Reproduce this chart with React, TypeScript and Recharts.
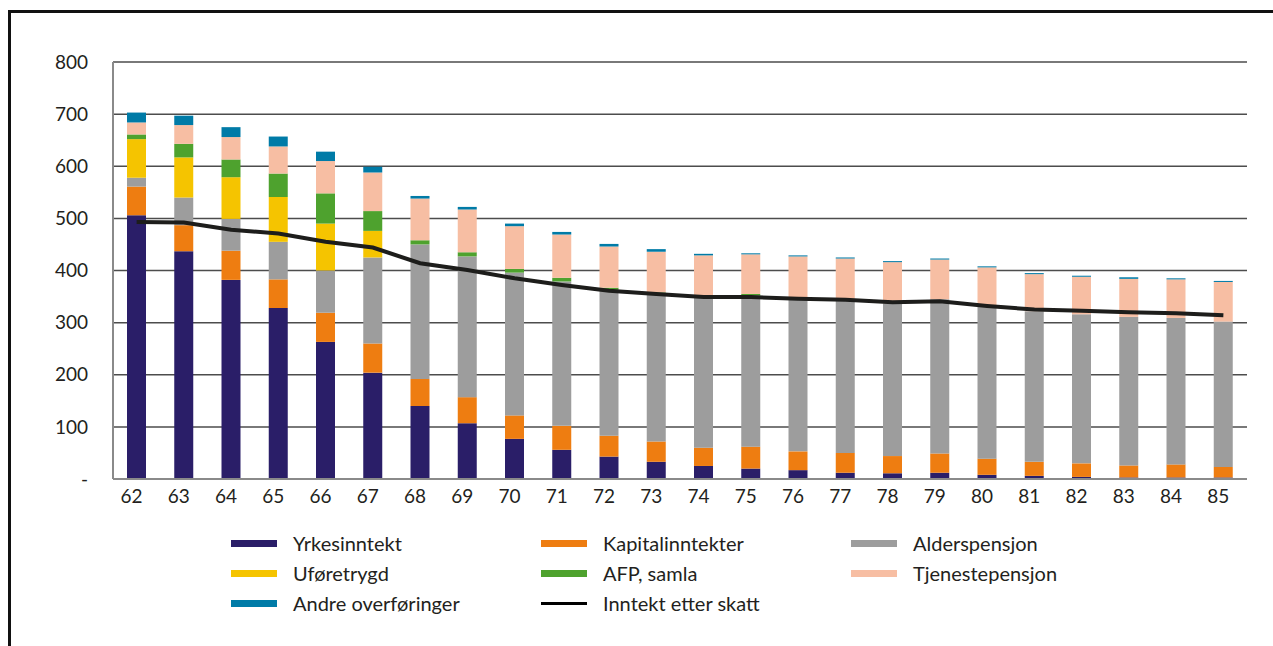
import { ComposedChart, Bar, Line, XAxis, YAxis, CartesianGrid } from "recharts";

const ages = ["62", "63", "64", "65", "66", "67", "68", "69", "70", "71", "72", "73", "74", "75", "76", "77", "78", "79", "80", "81", "82", "83", "84", "85"];
const yrkesinntekt = [506, 437, 382, 328, 263, 204, 140, 107, 77, 56, 43, 33, 25, 20, 17, 12, 11, 12, 8, 6, 4, 3, 3, 3];
const kapitalinntekter = [55, 50, 56, 55, 56, 56, 52, 50, 45, 46, 40, 39, 35, 42, 36, 38, 33, 37, 31, 27, 26, 23, 25, 20];
const alderspensjon = [17, 53, 61, 72, 81, 165, 258, 270, 274, 277, 280, 284, 290, 290, 295, 296, 293, 296, 291, 289, 286, 285, 281, 279];
const uforetrygd = [74, 77, 80, 86, 90, 51, 0, 0, 0, 0, 0, 0, 0, 0, 0, 0, 0, 0, 0, 0, 0, 0, 0, 0];
const afpSamla = [9, 26, 34, 45, 58, 38, 8, 8, 7, 7, 4, 2, 0, 3, 0, 0, 0, 0, 0, 0, 0, 0, 0, 0];
const tjenestepensjon = [23, 36, 43, 52, 62, 74, 80, 82, 82, 83, 79, 78, 79, 76, 79, 77, 79, 76, 76, 71, 72, 73, 74, 76];
const andreOverforinger = [19, 18, 19, 19, 18, 11, 5, 5, 5, 5, 5, 5, 3, 2, 2, 2, 2, 2, 2, 2, 2, 3, 2, 2];
const inntektEtterSkatt = [493, 492, 478, 471, 455, 444, 414, 401, 385, 372, 361, 355, 349, 349, 346, 344, 339, 341, 332, 325, 323, 320, 318, 314];
const yTicks = [0, 100, 200, 300, 400, 500, 600, 700, 800];

const FONT = "Lato, 'Open Sans', sans-serif";

const series = [
  { key: "yrke", name: "Yrkesinntekt", color: "#2a1e68", values: yrkesinntekt },
  { key: "kapital", name: "Kapitalinntekter", color: "#ee7d11", values: kapitalinntekter },
  { key: "alder", name: "Alderspensjon", color: "#9d9d9d", values: alderspensjon },
  { key: "ufor", name: "Uføretrygd", color: "#f5c400", values: uforetrygd },
  { key: "afp", name: "AFP, samla", color: "#4ea22e", values: afpSamla },
  { key: "tjeneste", name: "Tjenestepensjon", color: "#f7bea3", values: tjenestepensjon },
  { key: "andre", name: "Andre overføringer", color: "#007ba7", values: andreOverforinger },
];

const data = ages.map((age, i) => {
  const row: Record<string, number | string> = { age, netto: inntektEtterSkatt[i] };
  series.forEach((s) => (row[s.key] = s.values[i]));
  return row;
});

// legend laid out in three columns, same order as the original
const legendRows = [
  ["yrke", "kapital", "alder"],
  ["ufor", "afp", "tjeneste"],
  ["andre", "netto", null],
];
const legendCols = [231, 541, 851];

function LegendBlock() {
  return (
    <div style={{ position: "absolute", left: 0, top: 528, fontFamily: FONT, fontSize: 20, color: "#231f20" }}>
      {legendRows.map((row, r) =>
        row.map((key, c) => {
          if (!key) return null;
          const s = series.find((x) => x.key === key);
          const isLine = key === "netto";
          return (
            <div key={key} style={{ position: "absolute", left: legendCols[c], top: r * 30, height: 30, display: "flex", alignItems: "center", whiteSpace: "nowrap" }}>
              <span style={{ width: 46, height: isLine ? 3 : 7, background: isLine ? "#000" : s!.color, display: "inline-block" }} />
              <span style={{ marginLeft: 16 }}>{isLine ? "Inntekt etter skatt" : s!.name}</span>
            </div>
          );
        })
      )}
    </div>
  );
}

export default function App() {
  return (
    <div style={{ position: "absolute", left: 0, top: 0, width: 1273, height: 646, overflow: "hidden" }}>
      <div style={{ position: "absolute", left: 8, top: 10, width: 1265, height: 636, borderLeft: "3px solid #111", borderTop: "3px solid #111", boxSizing: "border-box" }} />
      <div style={{ position: "absolute", left: 0, top: 0 }}>
        <ComposedChart width={1273} height={646} data={data} margin={{ top: 62, right: 26, bottom: 137, left: 0 }} barCategoryGap="0%">
          <CartesianGrid vertical={false} stroke="#4d4d4d" strokeWidth={1.5} />
          <XAxis
            dataKey="age"
            height={30}
            axisLine={{ stroke: "#8a8a8a", strokeWidth: 2 }}
            tickLine={false}
            tickSize={0}
            tickMargin={11}
            tick={{ fill: "#231f20", fontSize: 19, fontFamily: FONT, dx: -5 }}
            interval={0}
          />
          <YAxis
            domain={[0, 800]}
            ticks={yTicks}
            width={113}
            axisLine={{ stroke: "#8a8a8a", strokeWidth: 2 }}
            tickLine={false}
            tickSize={0}
            tickMargin={25}
            tick={{ fill: "#231f20", fontSize: 19, fontFamily: FONT }}
            tickFormatter={(v: number) => (v === 0 ? "-" : String(v))}
          />
          {series.map((s) => (
            <Bar key={s.key} dataKey={s.key} name={s.name} stackId="a" fill={s.color} barSize={19} isAnimationActive={false} />
          ))}
          <Line type="linear" dataKey="netto" name="Inntekt etter skatt" stroke="#1d1d1b" strokeWidth={4} dot={false} isAnimationActive={false} />
        </ComposedChart>
      </div>
      <LegendBlock />
    </div>
  );
}
